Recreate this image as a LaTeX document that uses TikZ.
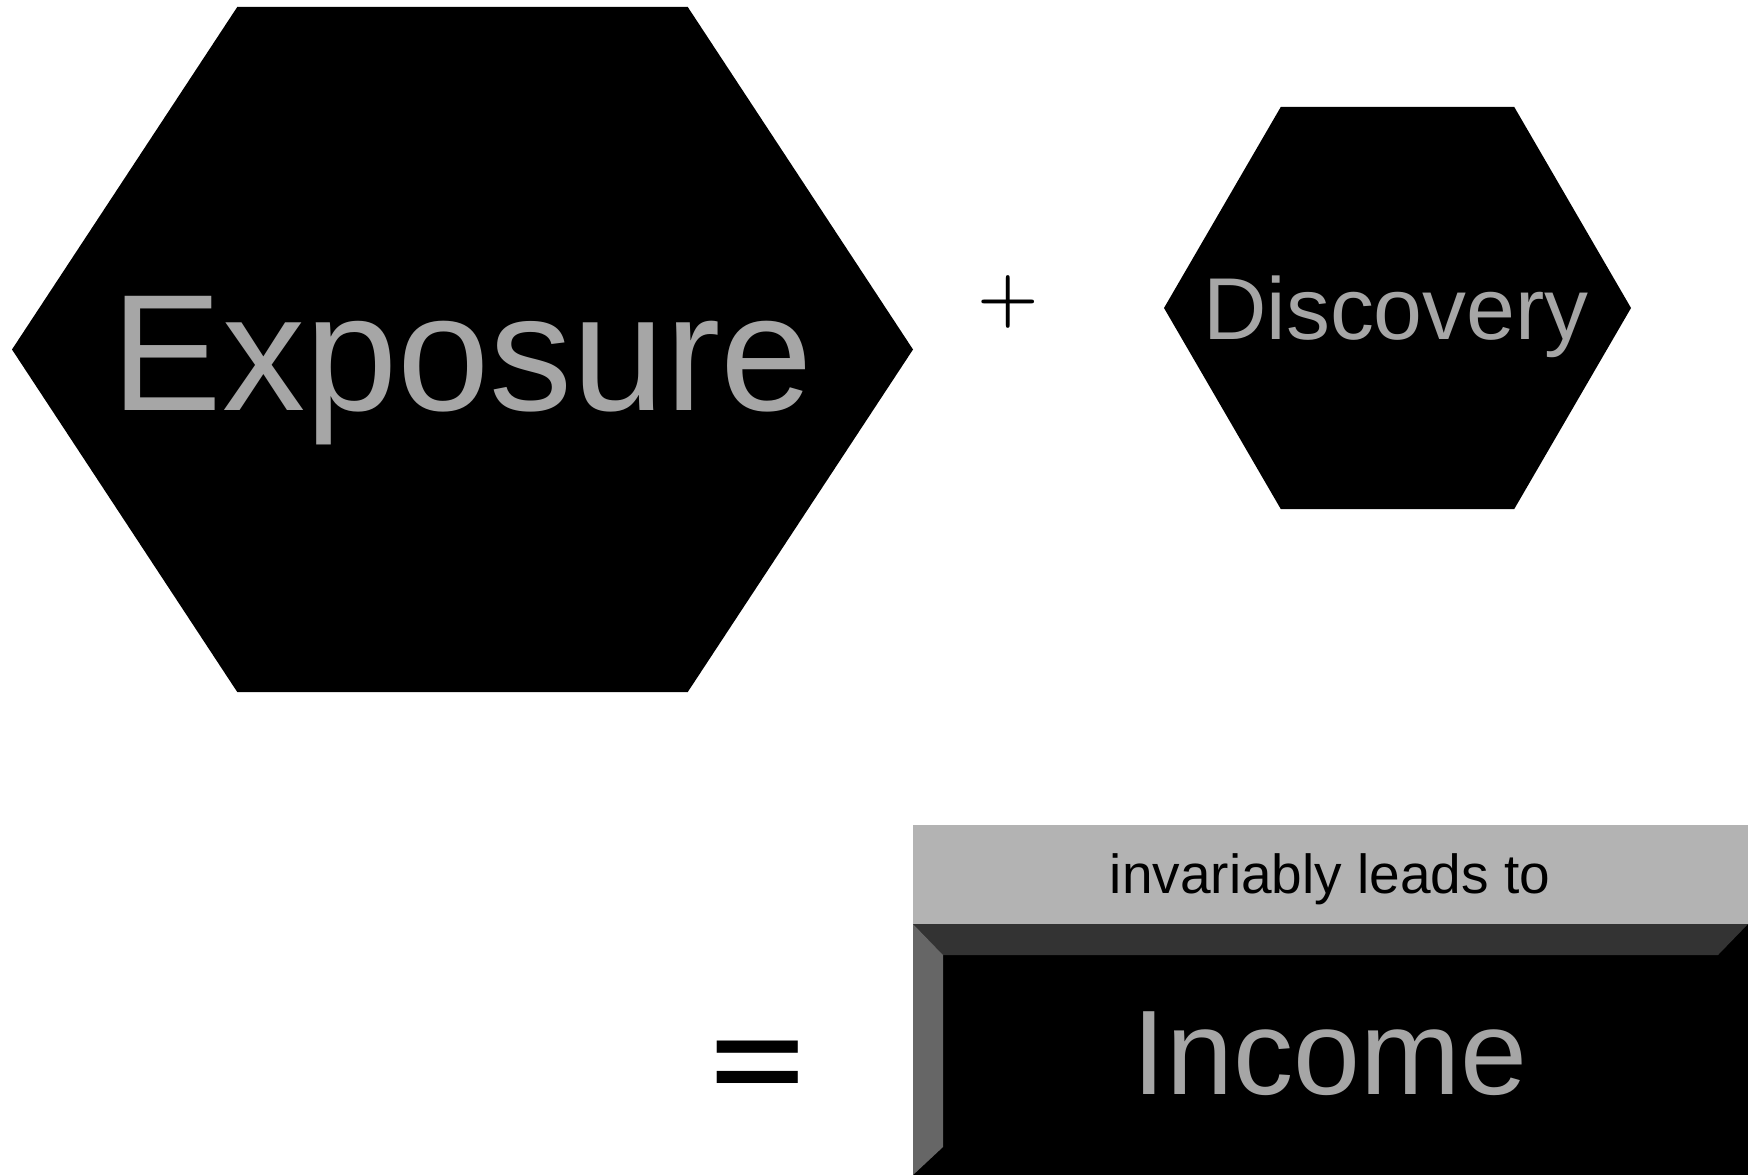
\documentclass[tikz,border=0pt]{standalone}
\usepackage{fontspec}
\newfontfamily\arial{Liberation Sans}
\definecolor{wordgray}{RGB}{166,166,166}
\definecolor{bandgray}{RGB}{179,179,179}
\definecolor{topbevel}{RGB}{51,51,51}
\definecolor{sidebevel}{RGB}{102,102,102}

\begin{document}
\begin{tikzpicture}[x=0.02cm,y=-0.02cm]
    \tikzstyle{every node}=[inner sep=0pt,outer sep=0pt]
    \tikzstyle{hexa}=[fill=black]
    \tikzstyle{word}=[text=wordgray,anchor=base]
    \tikzstyle{big word}=[word,font=\arial\fontsize{94.5}{94.5}\selectfont]
    \tikzstyle{mid word}=[word,font=\arial\fontsize{68.5}{68.5}\selectfont]
    \tikzstyle{small word}=[word,font=\arial\fontsize{50}{50}\selectfont]
    \tikzstyle{band word}=[anchor=base,font=\arial\fontsize{31.3}{31.3}\selectfont]

    \useasboundingbox (0,0) rectangle (1750,1175);

    % Draw the two hexagons (centre x / centre y / half width / half height)
    \foreach \cx / \cy / \w / \h in {462.5/349.5/450.5/342.5, 1397.5/308/233.5/201}
        \fill[hexa] (\cx-\w,\cy) -- ++(\w/2,-\h) -- ++(\w,0) -- ++(\w/2,\h)
            -- ++(-\w/2,\h) -- ++(-\w,0) -- cycle;

    \node[big word] (exposure) at (462,411) {Exposure};
    \node[small word] (discovery) at (1396,340) {Discovery};
    \node[font=\bfseries\fontsize{40}{40}\selectfont] (plus) at (1008,302) {+};

    % Draw the result box with its bevel
    \fill[bandgray] (913,825) rectangle (1748,924);
    \fill[black] (913,924) rectangle (1748,1175);
    \fill[topbevel] (913,924) -- (1748,924) -- (1718,955) -- (943,955) -- cycle;
    \fill[sidebevel] (913,924) -- (943,955) -- (943,1147) -- (913,1175) -- cycle;

    \node[band word] (leads) at (1330,893) {invariably leads to};
    \node[mid word] (income) at (1330,1094) {Income};
    \node[font=\arial\bfseries\fontsize{80}{80}\selectfont] (equals) at (758,1070) {\scalebox{1.15}[0.8]{=}};
\end{tikzpicture}
\end{document}
